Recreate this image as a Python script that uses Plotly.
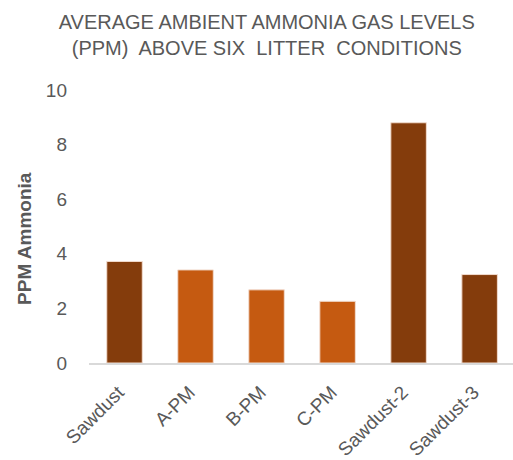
import plotly.graph_objects as go

categories = ["Sawdust", "A-PM", "B-PM", "C-PM", "Sawdust-2", "Sawdust-3"]
values = [3.72, 3.41, 2.68, 2.26, 8.80, 3.24]
colors = ["#843C0C", "#C55A11", "#C55A11", "#C55A11", "#843C0C", "#843C0C"]
y_ticks = [0, 2, 4, 6, 8, 10]

fig = go.Figure(go.Bar(
    x=categories, y=values,
    marker=dict(color=colors, line=dict(color="#F2DCCF", width=1)),
))

fig.update_layout(
    width=513, height=460,
    plot_bgcolor="white", paper_bgcolor="white",
    margin=dict(l=89, r=0, t=90, b=97, autoexpand=False),
    bargap=0.5,
    showlegend=False,
    font=dict(family="Liberation Sans, Arial, sans-serif", color="#595959"),
    title=dict(
        text="AVERAGE AMBIENT AMMONIA GAS LEVELS<br>(PPM)  ABOVE SIX  LITTER  CONDITIONS",
        x=0.52, xanchor="center", y=0.938, yanchor="middle",
        font=dict(size=20, color="#595959", family="Liberation Sans, Arial"),
    ),
    annotations=[dict(
        text="<b>PPM Ammonia</b>", textangle=-90,
        xref="paper", yref="paper", x=-0.151, y=0.458,
        xanchor="center", yanchor="middle", showarrow=False,
        font=dict(size=19, color="#595959"),
    )],
)
fig.update_xaxes(
    range=[-0.5, 5.47], tickangle=-45, tickfont=dict(size=19, color="#595959"),
    showline=True, linecolor="#D9D9D9", linewidth=1.5, ticks="", showgrid=False,
    automargin=False, ticklabelstandoff=9, ticklabelshift=-6,
)
fig.update_yaxes(
    range=[0, 10], tickvals=y_ticks, tickfont=dict(size=19, color="#595959"),
    showgrid=False, zeroline=False, showline=False, ticks="",
    automargin=False, ticklabelstandoff=21,
)

fig.write_html("out.html", config={"displayModeBar": False},
               post_script="document.body.style.margin='0';")
